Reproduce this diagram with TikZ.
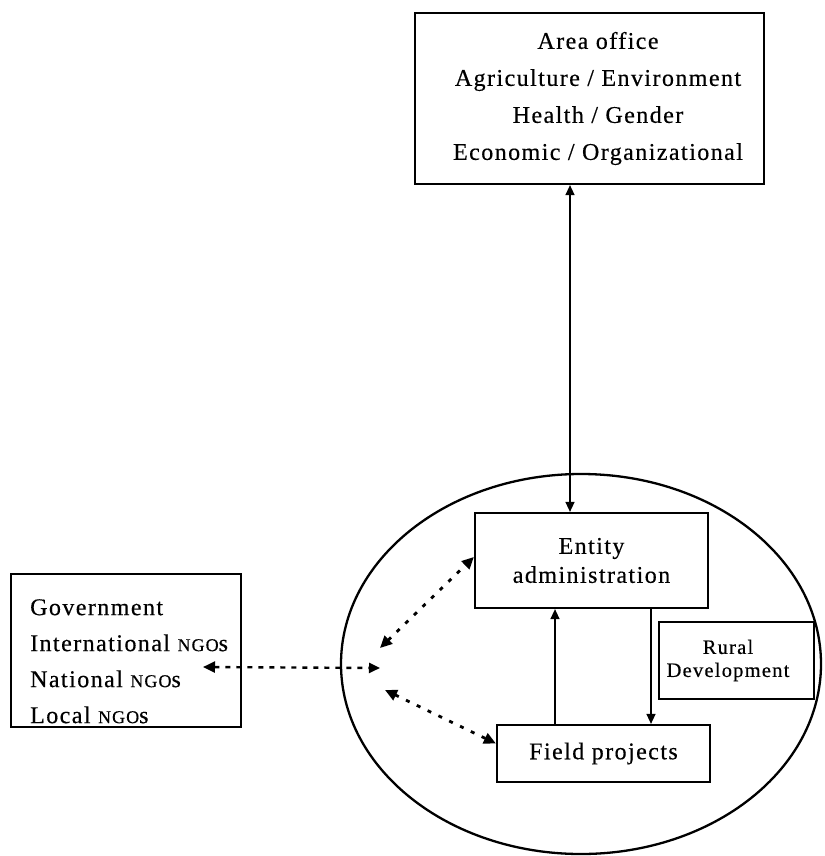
\documentclass[tikz,border=0pt]{standalone}
\usepackage{fontspec}
\setmainfont{Liberation Serif}[LetterSpace=6, FakeBold=0.4]
\usetikzlibrary{arrows.meta,shapes.geometric,calc}
\newcommand\ngoabbr{{\fontsize{18pt}{18pt}\selectfont NGO}s}

\begin{document}
\begin{tikzpicture}[x=1pt,y=-1pt,
  box/.style={draw, line width=2.2pt, inner sep=0pt},
  thinbox/.style={draw, line width=1.4pt, inner sep=0pt},
  link/.style={line width=1.4pt, -{Triangle[length=10pt,width=9pt]}},
  twoway/.style={line width=1.4pt, {Triangle[length=10pt,width=9pt]}-{Triangle[length=10pt,width=9pt]}},
  dotlink/.style={line width=2.8pt, dash pattern=on 4pt off 8pt,
    {Triangle[length=12pt,width=11pt]}-{Triangle[length=12pt,width=11pt]}},
  dashlink/.style={line width=2.4pt, dash pattern=on 5pt off 6pt,
    {Triangle[length=12pt,width=11pt]}-{Triangle[length=11pt,width=10pt]}},
  big/.style={font=\fontsize{24pt}{37pt}\selectfont, align=center}
]
\useasboundingbox (0,0) rectangle (824,856);

% head office
\node[box, minimum width=349pt, minimum height=171pt] (area) at (589.5,98.5) {};
\node[big, inner sep=0pt] (areatext) at (598,98.5)
  {Area office\\Agriculture / Environment\\Health / Gender\\Economic / Organizational};

% the entity and its internal units
\node[draw, ellipse, line width=2.3pt, inner sep=0pt,
      minimum width=480pt, minimum height=380pt] (org) at (581,664) {};
\node[box, font=\fontsize{24pt}{29pt}\selectfont, align=center,
      minimum width=233pt, minimum height=95pt] (ent) at (591.5,560.5)
  {Entity\\administration};
\node[thinbox, minimum width=155pt, minimum height=77pt] (rural) at (736.5,660.5) {};
\node[font=\fontsize{20.5pt}{23pt}\selectfont, align=center, inner sep=0pt]
  (ruraltext) at (728,660.5) {Rural\\Development};
\node[box, font=\fontsize{24pt}{29pt}\selectfont,
      minimum width=213pt, minimum height=57pt] (fld) at (603.5,753.5)
  {Field projects};

% external partners
\node[box, minimum width=230pt, minimum height=153pt] (gov) at (126,650.5) {};
\node[anchor=north west, inner sep=0pt, align=left,
      font=\fontsize{24pt}{36pt}\selectfont] (govlist) at (30,599)
  {Government\\International \ngoabbr\\National \ngoabbr\\Local \ngoabbr};

% solid links
\coordinate (axis) at (570,0);
\coordinate (upx) at (555,0);
\coordinate (downx) at (651,0);
\draw[twoway] (area.south -| axis) -- (ent.north -| axis);
\draw[link] (fld.north -| upx) -- (ent.south -| upx);
\draw[link] (ent.south -| downx) -- (fld.north -| downx);

% dotted partner links
\coordinate (govport) at (203,667);
\coordinate (hubr) at (380,668);
\coordinate (hubu) at (380,648);
\coordinate (hubd) at (385,690);
\draw[dashlink] (govport) -- (hubr);
\draw[dotlink] (hubu) -- ([yshift=3.5pt]ent.west);
\draw[dotlink] (hubd) -- ([yshift=10pt]fld.west);
\end{tikzpicture}
\end{document}
